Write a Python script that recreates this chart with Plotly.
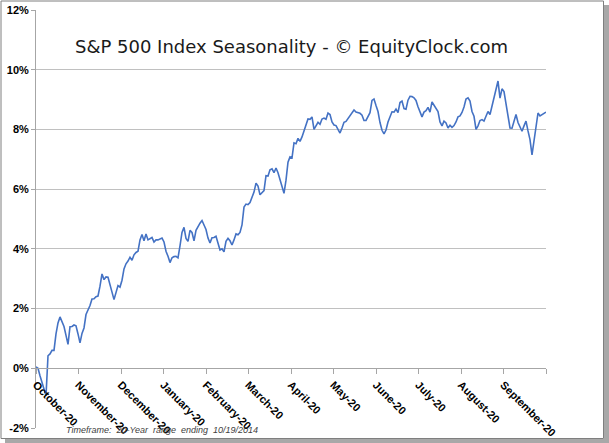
import plotly.graph_objects as go

# ---- data ----
months = ["October-20", "November-20", "December-20", "January-20", "February-20",
          "March-20", "April-20", "May-20", "June-20", "July-20", "August-20",
          "September-20"]
y_ticks = [-2, 0, 2, 4, 6, 8, 10, 12]
grid_vals = [2, 4, 6, 8, 10]
seasonal = [
    0.05, 0.0, -0.25, -0.5, -0.72,
    -0.92, 0.42, 0.48, 0.6, 0.6,
    1.15, 1.52, 1.72, 1.55, 1.4,
    1.1, 0.8, 1.39, 1.4, 1.45,
    1.42, 1.15, 0.85, 1.17, 1.35,
    1.8, 1.93, 2.1, 2.32, 2.33,
    2.4, 2.42, 2.75, 3.16, 2.97,
    3.06, 3.05, 2.75, 2.55, 2.3,
    2.5, 2.77, 2.72, 2.95, 3.33,
    3.5, 3.59, 3.72, 3.62, 3.8,
    3.88, 3.92, 4.3, 4.48, 4.27,
    4.5, 4.3, 4.35, 4.38, 4.23,
    4.3, 4.3, 4.32, 4.36, 4.23,
    3.92, 3.75, 3.54, 3.7, 3.74,
    3.75, 3.7, 4.1, 4.55, 4.72,
    4.35, 4.25, 4.62, 4.55, 4.27,
    4.62, 4.75, 4.86, 4.95, 4.77,
    4.65, 4.36, 4.2, 4.37, 4.38,
    4.42, 4.18, 3.96, 4.0, 3.9,
    4.25, 4.35, 4.27, 4.13, 4.3,
    4.5, 4.47, 4.55, 4.8, 5.4,
    5.5, 5.48, 5.55, 5.7, 5.9,
    6.2, 6.1, 5.81, 5.88, 5.95,
    6.45, 6.44, 6.65, 6.68, 6.55,
    6.71, 6.55, 6.3, 6.1, 5.86,
    6.3, 6.9, 7.08, 7.05, 7.55,
    7.52, 7.7, 7.6, 7.75, 7.98,
    8.2, 8.35, 8.34, 8.42, 8.0,
    8.11, 8.24, 8.17, 8.35, 8.38,
    8.34, 8.55, 8.5, 8.25, 8.15,
    8.13, 8.02, 7.88, 8.05, 8.24,
    8.27, 8.37, 8.46, 8.55, 8.65,
    8.58, 8.57, 8.54, 8.48, 8.3,
    8.3, 8.44, 8.56, 8.97, 9.02,
    8.8, 8.6, 8.23, 7.97, 7.85,
    7.98, 8.25, 8.45, 8.59, 8.58,
    8.68, 8.56, 8.9, 8.95, 8.7,
    8.68, 8.98, 9.11, 9.1, 9.06,
    8.97, 8.76, 8.56, 8.42, 8.58,
    8.63, 8.74, 8.58, 8.92, 8.8,
    8.7, 8.6, 8.25, 8.12, 8.28,
    8.22, 8.05, 8.14, 8.07, 8.13,
    8.25, 8.42, 8.45, 8.57, 8.75,
    9.02, 9.06, 8.95, 8.6, 8.44,
    8.0, 8.12, 8.3, 8.33, 8.28,
    8.42, 8.6, 8.5, 8.8, 9.0,
    9.31, 9.62, 9.05, 9.36, 9.27,
    8.85, 8.35, 8.05, 8.04, 8.28,
    8.5, 8.23, 8.06, 7.94, 8.12,
    8.28, 7.95, 7.66, 7.15, 7.62,
    8.11, 8.55, 8.45, 8.5, 8.52,
    8.58,
]

n_months = len(months)
n = len(seasonal)
xs = [i * n_months / (n - 1) for i in range(n)]

W, H = 609, 443
L, R, T, B = 36, 63, 10, 15
PW, PH = W - L - R, H - T - B


def px(x):
    return (x - L) / PW


def py(y):
    return (H - B - y) / PH


fig = go.Figure()
# base subplot carries gridlines only
fig.add_trace(go.Scatter(x=[0], y=[0], mode="markers", marker=dict(opacity=0),
                         hoverinfo="skip", showlegend=False, yaxis="y"))
fig.add_trace(go.Scatter(x=xs, y=seasonal, mode="lines",
                         line=dict(color="#4472C4", width=1.6),
                         showlegend=False, yaxis="y2"))

axis_font = dict(family="Arial, Liberation Sans", size=11, color="#000000", weight="bold")

fig.update_layout(
    width=W, height=H,
    margin=dict(l=L, r=R, t=T, b=B, pad=0, autoexpand=False),
    paper_bgcolor="white", plot_bgcolor="white",
    showlegend=False,
    xaxis=dict(range=[0, n_months], anchor="free", position=2 / 14,
               tickvals=list(range(n_months + 1)), ticktext=months + [""],
               tickangle=45, tickfont=axis_font, automargin=False,
               showline=True, linecolor="#a6a6a6", linewidth=1,
               ticks="outside", ticklen=5, tickcolor="#a6a6a6",
               showgrid=False, zeroline=False, fixedrange=True),
    yaxis=dict(range=[-2, 12], tickvals=grid_vals, showticklabels=False,
               showgrid=True, gridcolor="#c0c0c0", gridwidth=1, automargin=False,
               showline=False, zeroline=False, ticks=""),
    yaxis2=dict(range=[-2, 12], overlaying="y", side="left", automargin=False,
                tickvals=y_ticks, ticktext=[f"{v}%" for v in y_ticks],
                tickfont=axis_font, showgrid=False, zeroline=False,
                showline=True, linecolor="#a6a6a6", linewidth=1,
                ticks="outside", ticklen=4, tickcolor="#a6a6a6"),
)

fig.add_annotation(text="S&amp;P 500 Index Seasonality - © EquityClock.com",
                   xref="paper", yref="paper", x=px(291.5), y=py(47),
                   xanchor="center", yanchor="middle", showarrow=False,
                   font=dict(family="DejaVu Sans", size=18, color="#1a1a1a"))
fig.add_annotation(text="<i>Timeframe:  20-Year  range  ending  10/19/2014</i>",
                   xref="paper", yref="paper", x=px(64), y=py(430),
                   xanchor="left", yanchor="middle", showarrow=False,
                   font=dict(family="Arial, Liberation Sans", size=9, color="#404040"))

# outer frame with drop shadow
fig.add_shape(type="rect", xref="paper", yref="paper",
              x0=px(604), x1=px(609), y0=py(443), y1=py(5),
              fillcolor="#a8a8a8", line=dict(width=0), layer="below")
fig.add_shape(type="rect", xref="paper", yref="paper",
              x0=px(5), x1=px(609), y0=py(443), y1=py(439),
              fillcolor="#a8a8a8", line=dict(width=0), layer="below")
fig.add_shape(type="rect", xref="paper", yref="paper",
              x0=px(1), x1=px(603.5), y0=py(438.5), y1=py(1),
              fillcolor="rgba(0,0,0,0)", line=dict(color="#7f7f7f", width=1))

fig.write_html("out.html", config={"displayModeBar": False},
               post_script="document.body.style.margin='0';document.body.style.overflow='hidden';")
